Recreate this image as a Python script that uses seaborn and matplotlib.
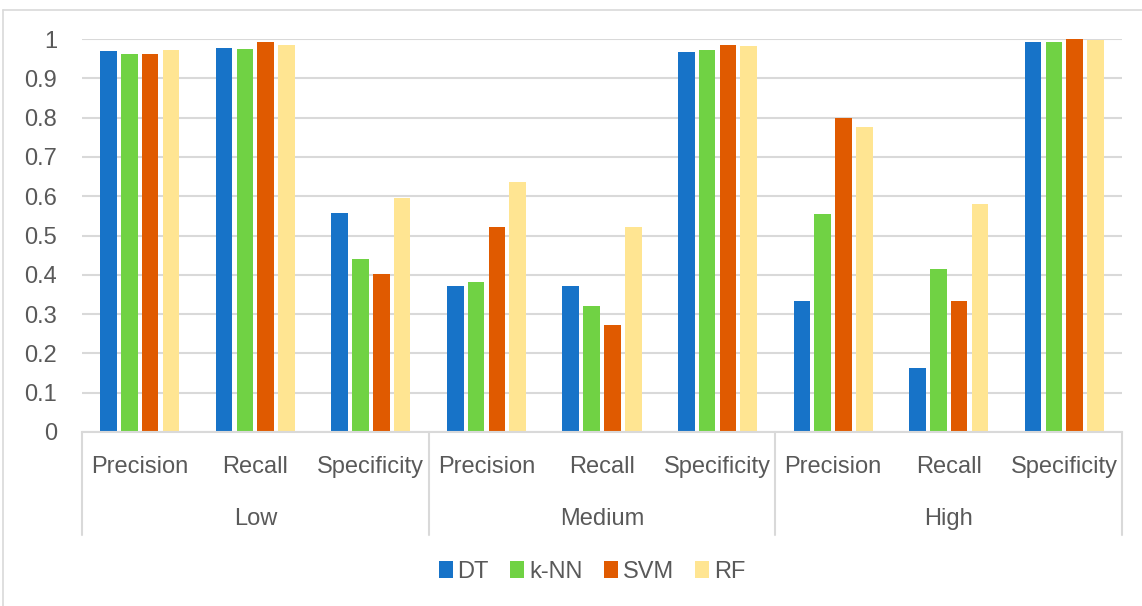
import numpy as np
import pandas as pd
import matplotlib
matplotlib.use("Agg")
import matplotlib.pyplot as plt
import matplotlib.transforms as mtransforms
from matplotlib.patches import Patch
from matplotlib.lines import Line2D
import seaborn as sns

# data
levels = ["Low", "Medium", "High"]
metrics = ["Precision", "Recall", "Specificity"]
models = ["DT", "k-NN", "SVM", "RF"]

dt_vals = [0.969, 0.978, 0.557, 0.371, 0.371, 0.967, 0.333, 0.163, 0.993]
knn_vals = [0.962, 0.975, 0.439, 0.381, 0.321, 0.972, 0.555, 0.415, 0.993]
svm_vals = [0.962, 0.993, 0.402, 0.522, 0.273, 0.986, 0.798, 0.333, 1.000]
rf_vals = [0.972, 0.986, 0.595, 0.635, 0.522, 0.983, 0.776, 0.581, 0.997]

colors = ["#1773C8", "#70D244", "#E05A00", "#FFE592"]
text_col = "#595959"
grid_col = "#D9D9D9"
fs = 17

cats = [lvl + "|" + m for lvl in levels for m in metrics]
rows = []
for name, vals in zip(models, [dt_vals, knn_vals, svm_vals, rf_vals]):
    for c, v in zip(cats, vals):
        rows.append({"cat": c, "model": name, "value": v})
df = pd.DataFrame(rows)

sns.set_style("white")
plt.rcParams["font.family"] = ["Liberation Sans", "DejaVu Sans"]

fig = plt.figure(figsize=(11.42, 6.06), dpi=100)
W, H = 1142, 606
ax = fig.add_axes([82 / W, 1 - 432 / H, (1122 - 82) / W, (432 - 39) / H])

sns.barplot(data=df, x="cat", y="value", hue="model", order=cats, hue_order=models,
            palette=colors, width=0.72, gap=0.2, ax=ax, legend=False,
            saturation=1, edgecolor="none")

ax.set_ylim(0, 1)
ax.set_xlim(-0.5, len(cats) - 0.5)
ax.set_yticks(np.arange(0, 1.01, 0.1))
ax.set_yticklabels(["0"] + [f"{t:.1f}" for t in np.arange(0.1, 0.95, 0.1)] + ["1"])
ax.yaxis.grid(True, color=grid_col, linewidth=1.5)
ax.set_axisbelow(True)
ax.tick_params(axis="y", length=0, pad=18, labelsize=fs, labelcolor=text_col)
ax.set_xticks([])
ax.set_xlabel("")
ax.set_ylabel("")
for s in ["top", "right", "left"]:
    ax.spines[s].set_visible(False)
ax.spines["bottom"].set_color(grid_col)
ax.spines["bottom"].set_linewidth(1.5)

# two-level category axis
trans = mtransforms.blended_transform_factory(ax.transData, ax.transAxes)
px = 1 / (432 - 39)
for i, c in enumerate(cats):
    ax.text(i, -35 * px, c.split("|")[1], transform=trans, ha="center", va="center",
            fontsize=fs, color=text_col, clip_on=False)
for j, lvl in enumerate(levels):
    ax.text(j * 3 + 1, -87 * px, lvl, transform=trans, ha="center", va="center",
            fontsize=fs, color=text_col, clip_on=False)
for xs in [-0.5, 2.5, 5.5, 8.5]:
    ax.add_line(Line2D([xs, xs], [0, -103 * px], transform=trans, color=grid_col,
                       linewidth=1.5, clip_on=False))

handles = [Patch(facecolor=c, edgecolor="none", label=m) for c, m in zip(colors, models)]
fig.legend(handles=handles, loc="center", bbox_to_anchor=(592 / W, 1 - 572 / H), ncol=4,
           frameon=False, fontsize=fs, handlelength=0.6, handleheight=0.7,
           handletextpad=0.2, columnspacing=0.9, labelcolor=text_col)

# chart area border
fig.add_artist(Line2D([3 / W, 3 / W], [0, 1 - 10 / H], transform=fig.transFigure,
                      color=grid_col, linewidth=1.2))
fig.add_artist(Line2D([3 / W, 1], [1 - 10 / H, 1 - 10 / H], transform=fig.transFigure,
                      color=grid_col, linewidth=1.2))

fig.savefig("out.png", dpi=100)
